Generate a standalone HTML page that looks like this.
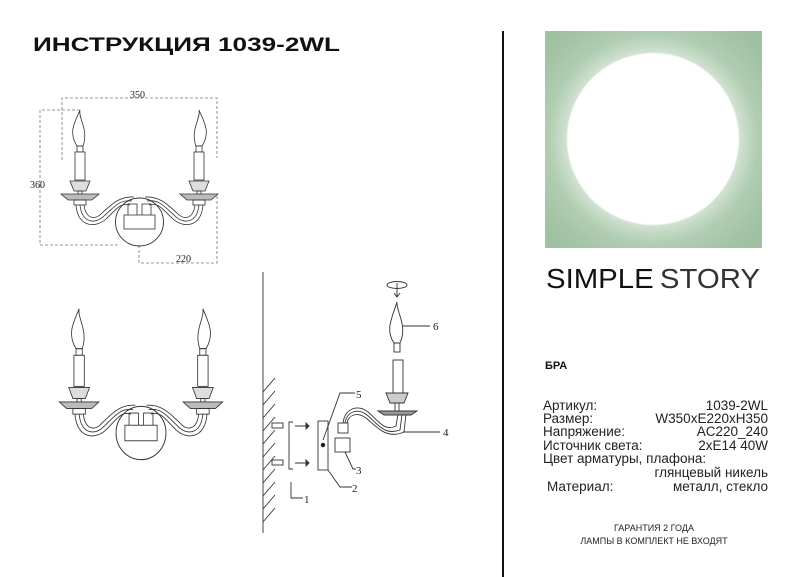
<!DOCTYPE html>
<html><head><meta charset="utf-8"><style>
html,body{margin:0;padding:0;background:#fff;width:800px;height:577px;overflow:hidden}
#g{position:absolute;left:545px;top:31px;width:217px;height:217px;
background:radial-gradient(circle at 108px 108px,#fff 0,#fff 85px,#d0e1d0 87px,#b0cdb1 105px,#9fc0a1 140px)}
svg{position:absolute;left:0;top:0}
</style></head><body>
<div id="g"></div>
<svg width="800" height="577" viewBox="0 0 800 577" font-family="Liberation Sans, sans-serif">
<defs>
<g id="half" fill="none" stroke="#333" stroke-width="0.8">
  <path d="M77,146 C68,132 75,122 80,110 C78,118 89,130 83,146 Z" fill="#fff"/>
  <rect x="77" y="146" width="6" height="6"/>
  <rect x="75" y="152" width="10" height="28" fill="#fff"/>
  <path d="M70,181 L90,181 L86,191 L74,191 Z" fill="#ddd"/>
  <rect x="78" y="191" width="4" height="3"/>
  <path d="M61,194 L99,194 L92,200 L68,200 Z" fill="#bbb"/>
  <rect x="74" y="200" width="12" height="5"/>
  <path d="M76,205 C78,228 96,228 106,219 C116,210 120,202 130,205"/>
  <path d="M80,205 C82,224 96,224 104,216 C114,207 120,199 132,201"/>
  <path d="M84,205 C86,220 96,220 102,213 C112,204 120,196 134,197"/>
  <rect x="128" y="204" width="9" height="12"/>
</g>
<g id="lamp">
  <use href="#half"/>
  <use href="#half" transform="translate(279,0) scale(-1,1)"/>
  <circle cx="139.5" cy="222" r="24" fill="none" stroke="#333" stroke-width="0.9"/>
  <rect x="124" y="215" width="31" height="14" fill="#fff" stroke="#333" stroke-width="0.8"/>
</g>
</defs>
<text x="33" y="51" font-size="19" font-weight="900" textLength="307" lengthAdjust="spacingAndGlyphs" fill="#111">ИНСТРУКЦИЯ 1039-2WL</text>
<line x1="503" y1="31" x2="503" y2="577" stroke="#111" stroke-width="2"/>

<use href="#lamp"/>
<g fill="none" stroke="#777" stroke-width="0.8" stroke-dasharray="3,2">
<path d="M62,160 L62,98 L217,98 L217,158"/>
<path d="M80,110 L40,110 L40,245 L118,245"/>
<path d="M139,245 L139,263 L217,263 L217,195"/>
</g>
<g font-family="Liberation Serif, serif" font-size="10" fill="#222">
<text x="130" y="98">350</text><text x="30" y="188">360</text><text x="176" y="262">220</text>
</g>

<g transform="translate(141,433) scale(1.04,1.11) translate(-139.5,-222)"><use href="#lamp"/></g>

<g fill="none" stroke="#333" stroke-width="0.9">
<line x1="263" y1="272" x2="263" y2="533"/>
<path d="M263,392 L275,378 M263,405 L275,391 M263,418 L275,404 M263,431 L275,417 M263,444 L275,430 M263,457 L275,443 M263,470 L275,456 M263,483 L275,469 M263,496 L275,482 M263,509 L275,495 M263,522 L275,508"/>
<rect x="272" y="423" width="11" height="5"/><rect x="272" y="460" width="11" height="5"/>
<path d="M293,422 L289,422 L289,469 L293,469"/>
<path d="M295,426 L308,426 M295,463 L308,463"/>
<path d="M306,423 L309,426 L306,429 Z M306,460 L309,463 L306,466 Z" fill="#333"/>
<rect x="318" y="421" width="10" height="49"/>
<circle cx="323" cy="445" r="1.8" fill="#111"/>
<path d="M323,440 L340,393 L355,393"/>
<path d="M328,470 L340,487 L352,487"/>
<path d="M291,482 L291,498 L303,498"/>
<rect x="335" y="438" width="15" height="14"/>
<path d="M345,452 L353,469 L356,469"/>
<rect x="338" y="423" width="10" height="10"/>
<path d="M343,423 C345,408 358,404 368,412 C378,420 384,432 396,426 L398,414"/>
<path d="M345,423 C347,411 358,408 367,415 C377,423 384,436 400,430 L402,414"/>
<path d="M347,423 C349,414 358,412 366,418 C376,426 386,440 404,432 L406,414"/>
<path d="M378,411 L417,411 L411,415 L384,415 Z" fill="#999"/>
<path d="M386,393 L408,393 L404,403 L390,403 Z" fill="#ccc"/>
<rect x="395" y="403" width="4" height="8"/>
<rect x="393" y="360" width="10" height="33"/>
<path d="M394,343 C385,330 392,318 397,302 C396,312 408,325 400,343 Z"/>
<rect x="394" y="343" width="6" height="9"/>
<path d="M403,326 L430,326"/>
<path d="M403,432 L440,432"/>
<ellipse cx="397" cy="285" rx="10" ry="3.5"/>
<path d="M397,283 L397,297 M394,293 L397,297 L400,293"/>
</g>
<g font-family="Liberation Serif, serif" font-size="11" fill="#222">
<text x="356" y="398">5</text><text x="352" y="492">2</text><text x="304" y="503">1</text><text x="356" y="474">3</text><text x="433" y="330">6</text><text x="443" y="436">4</text>
</g>

<text x="546" y="288" font-size="28" fill="#111" textLength="214" lengthAdjust="spacingAndGlyphs"><tspan>SIMPLE</tspan><tspan dx="6" fill="#333">STORY</tspan></text>

<text x="545" y="369" font-size="11" font-weight="bold" fill="#111">БРА</text>
<g font-size="13.5" fill="#222">
<text x="543" y="410">Артикул:</text><text x="768" y="410" text-anchor="end">1039-2WL</text>
<text x="543" y="423">Размер:</text><text x="768" y="423" text-anchor="end">W350xE220xH350</text>
<text x="543" y="436">Напряжение:</text><text x="768" y="436" text-anchor="end">AC220_240</text>
<text x="543" y="450">Источник света:</text><text x="768" y="450" text-anchor="end">2xE14 40W</text>
<text x="543" y="463">Цвет арматуры, плафона:</text>
<text x="768" y="477" text-anchor="end">глянцевый никель</text>
<text x="547" y="491">Материал:</text><text x="768" y="491" text-anchor="end">металл, стекло</text>
</g>
<g font-size="9" fill="#222" text-anchor="middle">
<text x="654" y="531">ГАРАНТИЯ 2 ГОДА</text>
<text x="654" y="544">ЛАМПЫ В КОМПЛЕКТ НЕ ВХОДЯТ</text>
</g>
</svg>
</body></html>
